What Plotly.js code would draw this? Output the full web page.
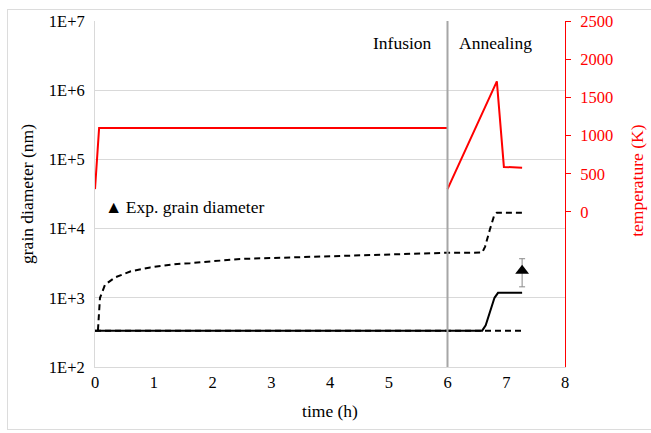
<!DOCTYPE html>
<html>
<head>
<meta charset="utf-8">
<script src="https://cdn.plot.ly/plotly-3.0.1.min.js"></script>
<style>
  html, body { margin: 0; padding: 0; background: #fff; }
  #wrap { position: relative; width: 651px; height: 433px; }
  #chart { width: 651px; height: 433px; }
  #frame { position: absolute; left: 7px; top: 9px; width: 650px; height: 421px; border: 1px solid #dcdcdc; pointer-events: none; box-sizing: border-box; }
</style>
</head>
<body>
<div id="wrap"><div id="chart"></div><div id="frame"></div></div>
<script>
// ---- data ----
const tempTime = [0, 0.07, 6.0, null, 6.0, 6.84, 6.96, 7.27];
const tempK    = [300, 1100, 1100, null, 300, 1710, 590, 580];

const dashUpTime = [0.05, 0.085, 0.17, 0.34, 0.6, 0.94, 1.4, 1.62, 2.47, 2.76, 4.17, 6.0, 6.59, 6.64, 6.72, 6.79, 6.84, 7.27];
const dashUpNm   = [340, 1000, 1540, 1970, 2400, 2750, 3090, 3170, 3640, 3700, 4060, 4480, 4500, 5500, 9600, 15000, 17000, 17000];

const dashLowTime = [0, 7.27];
const dashLowNm   = [335, 335];

const solidTime = [0, 6.59, 6.65, 6.74, 6.8, 6.86, 7.27];
const solidNm   = [335, 335, 400, 670, 1000, 1180, 1180];

const expTime = [7.27];
const expNm = [2460];
const expErrPlus = [1210];
const expErrMinus = [1020];
const expLabel = '▲\u2009Exp. grain diameter';

const yTickVals = [100, 1000, 10000, 100000, 1000000, 10000000];
const yTickText = ['1E+2', '1E+3', '1E+4', '1E+5', '1E+6', '1E+7'];
const tTickVals = [0, 500, 1000, 1500, 2000, 2500];
const phaseBoundary = 6;
const phaseLabels = ['Infusion', 'Annealing'];
const phaseLabelX = [5.23, 6.81];

const serif = 'Liberation Serif, Times New Roman, serif';
const TF = 16.5, LF = 17.5;

const traces = [
  { x: solidTime, y: solidNm, mode: 'lines', line: {color: '#000', width: 2}, showlegend: false, hoverinfo: 'skip' },
  { x: dashLowTime, y: dashLowNm, mode: 'lines', line: {color: '#000', width: 2, dash: '6px,4px'}, showlegend: false, hoverinfo: 'skip' },
  { x: dashUpTime, y: dashUpNm, mode: 'lines', line: {color: '#000', width: 2, dash: '6px,4px'}, showlegend: false, hoverinfo: 'skip' },
  { x: expTime, y: expNm, mode: 'markers', name: 'Exp. grain diameter',
    marker: {symbol: 'triangle-up', size: 12, color: '#000'},
    error_y: {type: 'data', symmetric: false, array: expErrPlus, arrayminus: expErrMinus, color: '#888', thickness: 1, width: 3},
    showlegend: false },
  { x: tempTime, y: tempK, yaxis: 'y2', mode: 'lines', line: {color: '#ff0000', width: 2}, connectgaps: false, showlegend: false, hoverinfo: 'skip' }
];

const layout = {
  width: 651, height: 433,
  margin: {l: 95, r: 86, t: 21, b: 66},
  paper_bgcolor: '#fff', plot_bgcolor: '#fff',
  font: {family: serif, size: TF, color: '#000'},
  showlegend: false,
  xaxis: {
    range: [0, 8], dtick: 1, tick0: 0, showgrid: false, zeroline: false,
    showline: true, linecolor: '#d9d9d9', linewidth: 1, ticks: '',
    tickfont: {family: serif, size: TF},
    title: {text: 'time (h)', font: {family: serif, size: LF}, standoff: 13}
  },
  yaxis: {
    type: 'log', range: [2, 7], tickvals: yTickVals, ticktext: yTickText,
    showgrid: true, gridcolor: '#d9d9d9', gridwidth: 1, zeroline: false,
    showline: true, linecolor: '#d9d9d9', ticks: '',
    tickfont: {family: serif, size: TF}, ticklabelstandoff: 6,
    title: {text: 'grain diameter (nm)', font: {family: serif, size: LF}, standoff: 10}
  },
  yaxis2: {
    overlaying: 'y', side: 'right', range: [-2029, 2500], tickvals: tTickVals,
    showgrid: false, zeroline: false, showline: true, linecolor: '#ff0000', linewidth: 1,
    ticks: 'outside', ticklen: 5, tickcolor: '#ff0000', ticklabelstandoff: 6,
    tickfont: {family: serif, size: TF, color: '#ff0000'}
  },
  shapes: [
    { type: 'line', xref: 'x', yref: 'paper', x0: phaseBoundary, x1: phaseBoundary, y0: 0, y1: 1,
      line: {color: '#a6a6a6', width: 2}, layer: 'above' }
  ],
  annotations: [
    { text: phaseLabels[0], xref: 'x', yref: 'paper', x: phaseLabelX[0], y: 0.936, showarrow: false, font: {family: serif, size: LF}, xanchor: 'center', yanchor: 'middle' },
    { text: phaseLabels[1], xref: 'x', yref: 'paper', x: phaseLabelX[1], y: 0.936, showarrow: false, font: {family: serif, size: LF}, xanchor: 'center', yanchor: 'middle' },
    { text: 'temperature (K)', xref: 'paper', yref: 'paper', x: 1.153, y: 0.538, showarrow: false, textangle: -90, font: {family: serif, size: LF, color: '#ff0000'}, xanchor: 'center', yanchor: 'middle' },
    { text: expLabel, xref: 'paper', yref: 'paper', x: 0.018, y: 0.462, showarrow: false, font: {family: serif, size: LF}, xanchor: 'left', yanchor: 'middle' }
  ]
};

Plotly.newPlot('chart', traces, layout, {displayModeBar: false, staticPlot: true});
</script>
</body>
</html>
